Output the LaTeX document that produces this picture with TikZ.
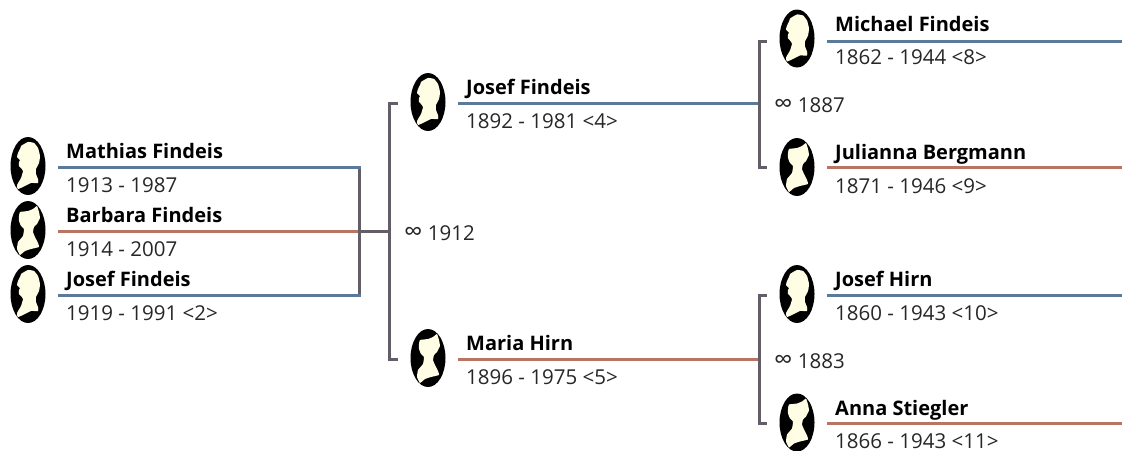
\documentclass[tikz,border=0pt]{standalone}
\usepackage{fontspec}
\setmainfont{Open Sans}
\usetikzlibrary{shapes.geometric}
\definecolor{maleblue}{HTML}{5B7A99}
\definecolor{femred}{HTML}{BA7463}
\definecolor{joingray}{HTML}{625D66}
\definecolor{cream}{HTML}{FFFDE3}
\newcommand{\infsym}{{\fontsize{26}{24}\selectfont ∞}}
\tikzset{
  x=1pt,y=-1pt,
  oval/.style={draw=none,fill=black,ellipse,inner sep=0pt,minimum width=35pt,minimum height=58pt},
  bust/.style={fill=cream,draw=none},
  maleline/.style={draw=maleblue,line width=3pt},
  femline/.style={draw=femred,line width=3pt},
  joinline/.style={draw=joingray,line width=3pt,line cap=butt,line join=miter},
  namelabel/.style={anchor=base west,inner sep=0pt,font=\fontsize{20}{24}\selectfont\bfseries,text=black},
  datelabel/.style={anchor=base west,inner sep=0pt,font=\fontsize{20.5}{24}\selectfont,text=black!85},
  marrlabel/.style={anchor=base west,inner sep=0pt,font=\fontsize{20.5}{24}\selectfont,text=black!85},
  pics/malehead/.style={code={
    \fill[bust] plot[smooth cycle,tension=0.3] coordinates {(-7,-20) (0,-24) (6,-23) (10,-18) (12,-10) (11,-3) (8,3) (8,8) (10,13) (10,17) (3,17) (-3,20) (-10,23) (-11,19) (-7,12) (-5,5) (-7,2) (-9,0) (-9,-4) (-8,-6) (-11,-9) (-10,-13) (-8,-17)};}},
  pics/femhead/.style={code={
    \fill[bust] plot[smooth cycle,tension=0.2] coordinates {(-8,-18) (0,-19) (5,-21) (9,-24) (11,-18) (12,-12) (9,-6) (6,-3) (5,2) (7,7) (10,13) (11,17) (3,19) (-3,21) (-8,25) (-11,19) (-10,12) (-5,6) (-4,-1) (-7,-4) (-9,-9) (-9,-14)};}},
}
% #1 id, #2 x of oval, #3 row y, #4 right end of line, #5 m/f, #6 name, #7 dates, #8 line y
\newcommand{\person}[8]{%
  \node[oval] (#1oval) at (#2,#3-1) {};
  \ifx#5m\pic at (#1oval.center) {malehead};\def\lnstyle{maleline}\else\pic at (#1oval.center) {femhead};\def\lnstyle{femline}\fi
  \coordinate (#1l) at (#2+30,#8);
  \coordinate (#1r) at (#4,#8);
  \draw[\lnstyle] (#1l) -- (#1r);
  \node[namelabel] (#1name) at (#2+38,#3-8.5) {#6};
  \node[datelabel] (#1date) at (#2+38,#3+25) {#7};
}
\begin{document}
\begin{tikzpicture}
\useasboundingbox (0,0) rectangle (1122,450);
% sibling bar
\coordinate (sibtop) at (359.5,167.5);
\coordinate (sibmid) at (359.5,231.5);
\coordinate (sibbot) at (359.5,295.5);
\draw[joinline] (sibtop) -- (sibbot);
% parents 1
\coordinate (p1top) at (398,103.5);
\coordinate (p1ct) at (389.5,103.5);
\coordinate (p1cb) at (389.5,359);
\coordinate (p1bot) at (398,359);
\coordinate (p1mid) at (389.5,231.5);
\draw[joinline] (p1top) -- (p1ct) -- (p1cb) -- (p1bot);
\draw[joinline] (sibmid) -- (p1mid);
\node[marrlabel] (m1) at (404,240) {\infsym\ 1912};
% parents 2
\coordinate (p2top) at (767,41);
\coordinate (p2ct) at (759,41);
\coordinate (p2cb) at (759,167.5);
\coordinate (p2bot) at (767,167.5);
\draw[joinline] (p2top) -- (p2ct) -- (p2cb) -- (p2bot);
\node[marrlabel] (m2) at (774,112) {\infsym\ 1887};
% parents 3
\coordinate (p3top) at (767,295.5);
\coordinate (p3ct) at (759,295.5);
\coordinate (p3cb) at (759,423.5);
\coordinate (p3bot) at (767,423.5);
\draw[joinline] (p3top) -- (p3ct) -- (p3cb) -- (p3bot);
\node[marrlabel] (m3) at (774,368) {\infsym\ 1883};
% people
\person{a}{28}{167}{361}{m}{Mathias Findeis}{1913 - 1987}{167.5}
\person{b}{28}{231}{358}{f}{Barbara Findeis}{1914 - 2007}{231.5}
\person{c}{28}{295}{361}{m}{Josef Findeis}{1919 - 1991 <2>}{295.5}
\person{d}{428}{103}{758}{m}{Josef Findeis}{1892 - 1981 <4>}{103.5}
\person{e}{428}{359}{758}{f}{Maria Hirn}{1896 - 1975 <5>}{359}
\person{f}{797}{39.5}{1122}{m}{Michael Findeis}{1862 - 1944 <8>}{41}
\person{g}{797}{168}{1122}{f}{Julianna Bergmann}{1871 - 1946 <9>}{167.5}
\person{h}{797}{295}{1122}{m}{Josef Hirn}{1860 - 1943 <10>}{295.5}
\person{i}{797}{423.5}{1122}{f}{Anna Stiegler}{1866 - 1943 <11>}{423.5}
\end{tikzpicture}
\end{document}
